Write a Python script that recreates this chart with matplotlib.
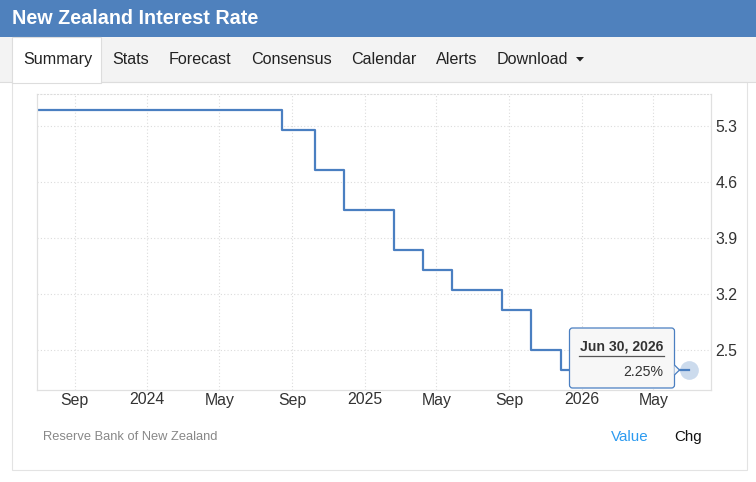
import matplotlib
matplotlib.use("Agg")
import matplotlib.pyplot as plt
import matplotlib.dates as mdates
from matplotlib.patches import Rectangle, FancyBboxPatch, Polygon
import pandas as pd

plt.rcParams['font.family'] = ['Liberation Sans', 'DejaVu Sans']

W, H = 756, 482

title = "New Zealand Interest Rate"
tabs = ["Summary", "Stats", "Forecast", "Consensus", "Calendar", "Alerts", "Download"]
tab_x = [23, 112, 169, 251, 351, 436, 497]

# official cash rate, step changes
dates = pd.to_datetime(['2023-06-30', '2024-08-14', '2024-10-09', '2024-11-27',
                        '2025-02-19', '2025-04-09', '2025-05-28', '2025-08-20',
                        '2025-10-08', '2025-11-26', '2026-06-30'])
rates = [5.5, 5.25, 4.75, 4.25, 3.75, 3.5, 3.25, 3.0, 2.5, 2.25, 2.25]

tick_dates = pd.to_datetime(['2023-09-01', '2024-01-01', '2024-05-01', '2024-09-01',
                             '2025-01-01', '2025-05-01', '2025-09-01', '2026-01-01',
                             '2026-05-01'])
tick_labels = ['Sep', '2024', 'May', 'Sep', '2025', 'May', 'Sep', '2026', 'May']
y_ticks = [2.5, 3.2, 3.9, 4.6, 5.3]

line_col = '#4a7fc1'

fig = plt.figure(figsize=(W / 100, H / 100), dpi=100)
fig.patch.set_facecolor('white')

# page furniture drawn in pixel coordinates
bg = fig.add_axes([0, 0, 1, 1], zorder=0)
bg.set_xlim(0, W)
bg.set_ylim(H, 0)
bg.axis('off')

bg.add_patch(Rectangle((0, 0), W, 37, color='#4f81bd', lw=0))
bg.text(12, 18.5, title, color='white', fontsize=14.2, fontweight='bold',
        va='center', ha='left')

bg.add_patch(Rectangle((0, 37), W, 45, color='#f3f3f3', lw=0))
bg.add_patch(Rectangle((12, 82), 735, 388, facecolor='white',
                       edgecolor='#e3e3e3', lw=0.8))
bg.add_patch(Rectangle((12, 37), 89, 45.5, facecolor='white',
                       edgecolor='#dddddd', lw=0.8))
bg.plot([0, 12], [82, 82], color='#dddddd', lw=0.8)
bg.plot([101, W], [82, 82], color='#dddddd', lw=0.8)
for name, x in zip(tabs, tab_x):
    bg.text(x, 59.5, name, fontsize=11.6, color='#222222', va='center', ha='left')
bg.add_patch(Polygon([(576, 57), (584, 57), (580, 61.5)], closed=True,
                     color='#222222', lw=0))

bg.text(43, 437, "Reserve Bank of New Zealand", fontsize=9.3, color='#888888',
        va='center', ha='left')
bg.text(611, 437, "Value", fontsize=10.9, color='#2d9bf0', va='center', ha='left')
bg.text(674, 437, "Chg", fontsize=10.9, color='#111111', va='center', ha='left')

# chart
ax = fig.add_axes([37.3 / W, 1 - 390 / H, (711 - 37.3) / W, (390 - 94.3) / H], zorder=1)
ax.patch.set_alpha(0)
ax.step(dates, rates, where='post', color=line_col, lw=1.6)
ax.plot(dates[-1], rates[-1], 'o', ms=13.5, color=line_col, alpha=0.28, mec='none')

ax.set_xlim(mdates.date2num(pd.Timestamp('2023-06-30')),
            mdates.date2num(pd.Timestamp('2026-08-06')))
ax.set_ylim(2.0, 5.7)
ax.set_xticks(tick_dates)
ax.set_xticklabels(tick_labels)
ax.set_yticks(y_ticks)
ax.set_yticklabels([f'{v:.1f}' for v in y_ticks])
ax.yaxis.tick_right()
ax.tick_params(axis='both', length=0, labelsize=11.4, colors='#333333')
ax.tick_params(axis='x', pad=1.8)
ax.tick_params(axis='y', pad=3.4)
ax.grid(True, color='#dcdcdc', ls=(0, (1, 2)), lw=0.8)
for side in ['left', 'bottom', 'right']:
    ax.spines[side].set_color('#e0e0e0')
    ax.spines[side].set_linewidth(0.9)
ax.spines['top'].set_color('#dcdcdc')
ax.spines['top'].set_linestyle((0, (1, 2)))
ax.spines['top'].set_linewidth(0.8)

# tooltip
ov = fig.add_axes([0, 0, 1, 1], zorder=3)
ov.set_xlim(0, W)
ov.set_ylim(H, 0)
ov.axis('off')
ov.patch.set_alpha(0)
ov.add_patch(FancyBboxPatch((569.5, 328), 105, 60,
                            boxstyle='round,pad=0,rounding_size=3',
                            facecolor='#f7f7f7', edgecolor=line_col, lw=0.9))
ov.add_patch(Polygon([(674.4, 365), (679.5, 370), (674.4, 375)], closed=False,
                     facecolor='#f7f7f7', edgecolor=line_col, lw=0.9))
ov.text(621.3, 346.5, "Jun 30, 2026", fontsize=10.1, fontweight='bold',
        color='#333333', va='center', ha='center')
ov.plot([579, 664], [356, 356], color='#555555', lw=0.9)
ov.text(663.5, 372, "2.25%", fontsize=10.2, color='#333333', va='center', ha='right')

fig.savefig('out.png', dpi=100)
